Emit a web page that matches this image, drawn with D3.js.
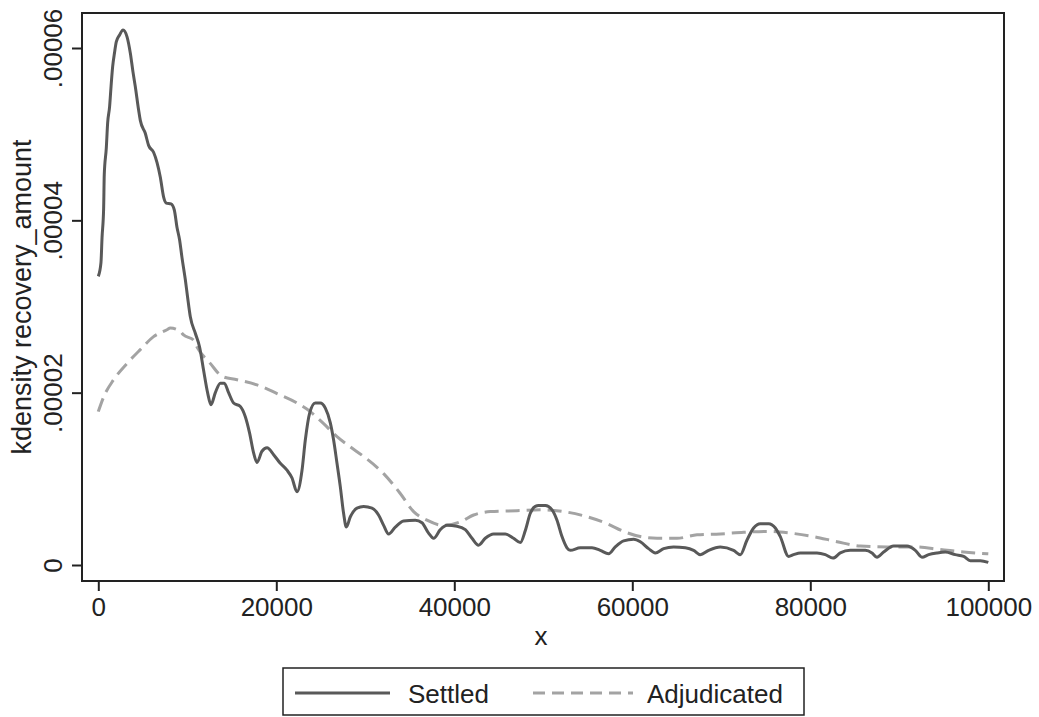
<!DOCTYPE html>
<html>
<head>
<meta charset="utf-8">
<script src="https://cdn.jsdelivr.net/npm/d3@7"></script>
<style>
  body { margin: 0; background: #fff; }
  text { font-family: "Liberation Sans", Arial, sans-serif; fill: #222; }
</style>
</head>
<body>
<svg id="chart"></svg>
<script>
const width = 1039;
const height = 717;

// Settled recovery density (x = amount, y = kdensity)
const settledX = [0, 300, 420, 600, 670, 900, 1050, 1270, 1430, 1610, 1830, 2020, 2390, 2780, 3230, 3600, 3900, 4160, 4530, 4720,
  5280, 5650, 6210, 6600, 6970, 7340, 7640, 8170, 8540, 8840, 9140, 9400, 9780, 10030, 10340, 10900, 11380, 11830, 12280, 12660,
  13150, 13710, 14160, 14640, 15200, 15960, 16520, 17000, 17450, 17830, 18390, 18960, 19700, 20450, 21200, 21760, 22330, 22890, 23260, 23740,
  24380, 24940, 25510, 26070, 26440, 26820, 27190, 27560, 27870, 28320, 29070, 29810, 30750, 31490, 32060, 32620, 33370, 34300, 35620, 36370,
  37110, 37670, 38430, 39180, 40300, 41240, 41990, 42730, 43480, 44420, 45730, 46660, 47420, 47980, 48540, 49100, 49470, 50230, 50980, 51540,
  52100, 52660, 53030, 54160, 55470, 56400, 57340, 58090, 59020, 60150, 60900, 61830, 62580, 63520, 64640, 65960, 66890, 67640, 68570, 69890,
  71380, 72140, 72890, 73630, 74380, 75320, 76070, 76630, 77560, 78120, 78880, 80750, 81690, 82550, 83370, 84490, 86180, 86930, 87490, 88240,
  89360, 90870, 91800, 92550, 93290, 94240, 95170, 96290, 97230, 97980, 99100, 100000];
const settledY = [3.35e-5, 3.51e-5, 3.80e-5, 4.14e-5, 4.53e-5, 4.84e-5, 5.13e-5, 5.32e-5, 5.55e-5, 5.78e-5, 5.95e-5, 6.07e-5, 6.15e-5, 6.21e-5, 6.13e-5, 5.94e-5, 5.72e-5, 5.55e-5, 5.28e-5, 5.16e-5,
  5.01e-5, 4.87e-5, 4.79e-5, 4.67e-5, 4.50e-5, 4.27e-5, 4.20e-5, 4.19e-5, 4.12e-5, 3.92e-5, 3.77e-5, 3.57e-5, 3.31e-5, 3.11e-5, 2.88e-5, 2.69e-5, 2.53e-5, 2.26e-5, 2.00e-5, 1.86e-5,
  2.00e-5, 2.11e-5, 2.11e-5, 2.00e-5, 1.88e-5, 1.84e-5, 1.72e-5, 1.53e-5, 1.30e-5, 1.19e-5, 1.32e-5, 1.36e-5, 1.28e-5, 1.18e-5, 1.10e-5, 1.01e-5, 0.85e-5, 1.10e-5, 1.45e-5, 1.76e-5,
  1.88e-5, 1.88e-5, 1.82e-5, 1.65e-5, 1.45e-5, 1.18e-5, 0.91e-5, 0.60e-5, 0.44e-5, 0.56e-5, 0.66e-5, 0.68e-5, 0.66e-5, 0.58e-5, 0.46e-5, 0.36e-5, 0.44e-5, 0.51e-5, 0.52e-5, 0.49e-5,
  0.37e-5, 0.31e-5, 0.41e-5, 0.46e-5, 0.45e-5, 0.41e-5, 0.31e-5, 0.23e-5, 0.31e-5, 0.36e-5, 0.36e-5, 0.31e-5, 0.26e-5, 0.40e-5, 0.60e-5, 0.68e-5, 0.69e-5, 0.69e-5, 0.64e-5, 0.52e-5,
  0.33e-5, 0.20e-5, 0.17e-5, 0.20e-5, 0.20e-5, 0.17e-5, 0.13e-5, 0.21e-5, 0.28e-5, 0.30e-5, 0.27e-5, 0.19e-5, 0.14e-5, 0.19e-5, 0.21e-5, 0.20e-5, 0.17e-5, 0.12e-5, 0.17e-5, 0.21e-5,
  0.17e-5, 0.12e-5, 0.29e-5, 0.43e-5, 0.48e-5, 0.48e-5, 0.43e-5, 0.33e-5, 0.10e-5, 0.12e-5, 0.14e-5, 0.14e-5, 0.12e-5, 0.08e-5, 0.14e-5, 0.17e-5, 0.17e-5, 0.14e-5, 0.09e-5, 0.15e-5,
  0.22e-5, 0.22e-5, 0.17e-5, 0.09e-5, 0.12e-5, 0.14e-5, 0.15e-5, 0.12e-5, 0.10e-5, 0.05e-5, 0.05e-5, 0.03e-5];

// Adjudicated recovery density
const adjudicatedX = [0, 600, 1720, 3230, 4720, 6210, 7720, 8090, 9210, 9580, 10710, 11090, 12580, 13900, 15580, 17830, 20080, 22330, 23820, 25320,
  26820, 28320, 29810, 32060, 33930, 35430, 36930, 38800, 40670, 42170, 44050, 47050, 50030, 52280, 54910, 57160, 59020, 60900, 62780, 65020,
  67270, 69890, 72510, 75140, 77750, 80370, 83000, 85620, 88620, 91610, 94610, 97230, 100000];
const adjudicatedY = [1.78e-5, 1.95e-5, 2.15e-5, 2.34e-5, 2.50e-5, 2.65e-5, 2.73e-5, 2.75e-5, 2.71e-5, 2.67e-5, 2.61e-5, 2.53e-5, 2.34e-5, 2.19e-5, 2.15e-5, 2.09e-5, 1.99e-5, 1.88e-5, 1.78e-5, 1.64e-5,
  1.49e-5, 1.37e-5, 1.26e-5, 1.06e-5, 0.83e-5, 0.62e-5, 0.52e-5, 0.46e-5, 0.50e-5, 0.58e-5, 0.62e-5, 0.63e-5, 0.64e-5, 0.62e-5, 0.56e-5, 0.48e-5, 0.39e-5, 0.33e-5, 0.31e-5, 0.31e-5,
  0.35e-5, 0.36e-5, 0.38e-5, 0.39e-5, 0.37e-5, 0.33e-5, 0.27e-5, 0.22e-5, 0.21e-5, 0.21e-5, 0.18e-5, 0.15e-5, 0.13e-5];

const xTicks = [0, 20000, 40000, 60000, 80000, 100000];
const yTicks = [0, 0.00002, 0.00004, 0.00006];
const yTickLabels = ["0", ".00002", ".00004", ".00006"];
const seriesNames = ["Settled", "Adjudicated"];

const svg = d3.select("#chart").attr("width", width).attr("height", height);

// plot frame
const frame = { left: 82, right: 1004, top: 13, bottom: 581 };

const x = d3.scaleLinear().domain([0, 100000]).range([98.3, 988.3]);
const y = d3.scaleLinear().domain([0, 0.00006]).range([565, 48]);

svg.append("rect")
  .attr("x", frame.left).attr("y", frame.top)
  .attr("width", frame.right - frame.left).attr("height", frame.bottom - frame.top)
  .attr("fill", "none").attr("stroke", "#222").attr("stroke-width", 2);

// x axis
const xAxis = svg.append("g")
  .attr("transform", `translate(0,${frame.bottom})`)
  .call(d3.axisBottom(x).tickValues(xTicks).tickSize(10).tickPadding(7).tickFormat(d3.format("d")));
xAxis.select(".domain").remove();
xAxis.selectAll("line").attr("stroke", "#222").attr("stroke-width", 2);
xAxis.selectAll("text").attr("font-size", 26).attr("fill", "#222")
  .attr("font-family", "Liberation Sans, Arial, sans-serif");

// y axis
const yAxis = svg.append("g")
  .attr("transform", `translate(${frame.left},0)`)
  .call(d3.axisLeft(y).tickValues(yTicks).tickSize(10).tickFormat((d, i) => yTickLabels[i]));
yAxis.select(".domain").remove();
yAxis.selectAll("line").attr("stroke", "#222").attr("stroke-width", 2);
yAxis.selectAll("text")
  .attr("font-size", 26).attr("fill", "#222")
  .attr("font-family", "Liberation Sans, Arial, sans-serif")
  .attr("text-anchor", "middle")
  .attr("x", null).attr("dy", null)
  .attr("transform", "translate(-20,0) rotate(-90)");

// axis titles
svg.append("text")
  .attr("x", 541).attr("y", 645)
  .attr("text-anchor", "middle").attr("font-size", 26)
  .text("x");

svg.append("text")
  .attr("transform", `translate(31,${(frame.top + frame.bottom) / 2}) rotate(-90)`)
  .attr("text-anchor", "middle").attr("font-size", 27)
  .text("kdensity recovery_amount");

// lines
const line = d3.line()
  .x(d => x(d[0]))
  .y(d => y(d[1]))
  .curve(d3.curveMonotoneX);

svg.append("path")
  .datum(adjudicatedX.map((v, i) => [v, adjudicatedY[i]]))
  .attr("d", line)
  .attr("fill", "none")
  .attr("stroke", "#a3a3a3")
  .attr("stroke-width", 3)
  .attr("stroke-dasharray", "14,7");

svg.append("path")
  .datum(settledX.map((v, i) => [v, settledY[i]]))
  .attr("d", line)
  .attr("fill", "none")
  .attr("stroke", "#595959")
  .attr("stroke-width", 3)
  .attr("stroke-linejoin", "round");

// legend
const legend = svg.append("g");
legend.append("rect")
  .attr("x", 283).attr("y", 668).attr("width", 521).attr("height", 47)
  .attr("fill", "#fff").attr("stroke", "#222").attr("stroke-width", 1.5);

legend.append("line")
  .attr("x1", 295).attr("x2", 390).attr("y1", 693).attr("y2", 693)
  .attr("stroke", "#595959").attr("stroke-width", 3);
legend.append("text")
  .attr("x", 408).attr("y", 703).attr("font-size", 26)
  .text(seriesNames[0]);

legend.append("line")
  .attr("x1", 533).attr("x2", 633).attr("y1", 693).attr("y2", 693)
  .attr("stroke", "#a3a3a3").attr("stroke-width", 3).attr("stroke-dasharray", "12,7");
legend.append("text")
  .attr("x", 647).attr("y", 703).attr("font-size", 26)
  .text(seriesNames[1]);
</script>
</body>
</html>
